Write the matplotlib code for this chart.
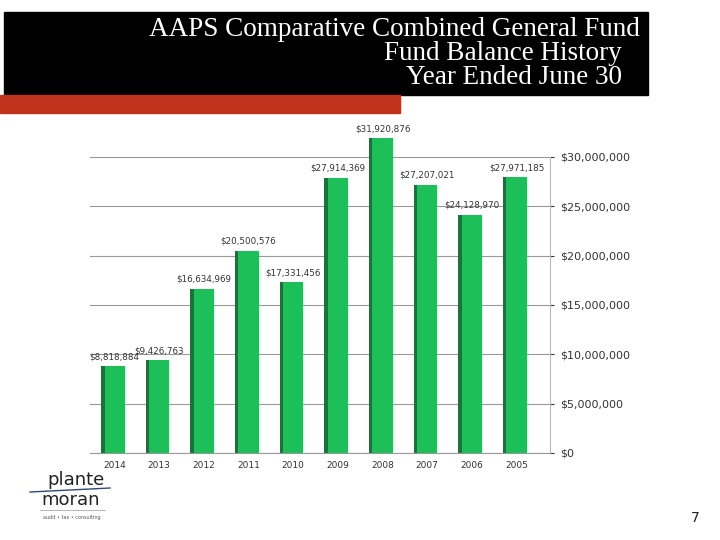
import matplotlib.pyplot as plt
from matplotlib.patches import Rectangle
from matplotlib.ticker import FuncFormatter

# fund balance by fiscal year (year ended June 30)
years = ['2005', '2006', '2007', '2008', '2009', '2010', '2011', '2012', '2013', '2014']
balances = [27971185, 24128970, 27207021, 31920876, 27914369,
            17331456, 20500576, 16634969, 9426763, 8818884]
title_lines = ['AAPS Comparative Combined General Fund',
               'Fund Balance History',
               'Year Ended June 30']

fig = plt.figure(figsize=(7.2, 5.4), dpi=100)

# header band: black box and red strip
fig.patches.append(Rectangle((0.005, 1 - 95 / 540), 0.895, 83 / 540,
                             transform=fig.transFigure, color='black', zorder=0))
fig.patches.append(Rectangle((0.0, 1 - 113 / 540), 400 / 720, 18 / 540,
                             transform=fig.transFigure, color='#c0321c', zorder=0))
fig.text(640 / 720, 1 - 29 / 540, title_lines[0], color='white', ha='right', va='center',
         family='Liberation Serif', fontsize=19.5)
fig.text(622 / 720, 1 - 53 / 540, title_lines[1], color='white', ha='right', va='center',
         family='Liberation Serif', fontsize=19.5)
fig.text(622 / 720, 1 - 77 / 540, title_lines[2], color='white', ha='right', va='center',
         family='Liberation Serif', fontsize=19.5)

# chart
ax = fig.add_axes([90 / 720, 1 - 453 / 540, 460 / 720, 325.6 / 540])
x = list(range(len(years)))
bw = 0.45
ax.bar(x, balances, width=bw, color='#1cbf58', zorder=3)
# darker side face for the 3D look (left side in this mirrored layout)
ax.bar([i + bw / 2 + 0.04 for i in x], balances, width=0.08, color='#0f7a36', zorder=2)

for i, v in zip(x, balances):
    ax.text(i, v + 500000, '${:,}'.format(v), ha='center', va='bottom',
            fontsize=6.3, color='#333333')

ax.set_xlim(9.55, -0.75)
ax.set_ylim(0, 33000000)
ax.set_xticks(x)
ax.set_xticklabels(years, fontsize=6.5, color='#333333')
ax.set_yticks(range(0, 30000001, 5000000))
ax.yaxis.set_major_formatter(FuncFormatter(lambda v, p: '${:,.0f}'.format(v)))
ax.yaxis.tick_right()
ax.tick_params(axis='y', labelsize=8, colors='#333333', length=3, pad=4)
ax.tick_params(axis='x', length=0, pad=6)
ax.grid(axis='y', color='#9a9a9a', linewidth=0.8, zorder=0)
for s in ['top', 'left']:
    ax.spines[s].set_visible(False)
ax.spines['right'].set_color('#bbbbbb')
ax.spines['right'].set_bounds(0, 30000000)
ax.spines['bottom'].set_color('#999999')

# logo block
fig.text(105 / 720, 1 - 480 / 540, 'plante', fontsize=13, ha='right', va='center', color='#222222')
fig.text(100 / 720, 1 - 500 / 540, 'moran', fontsize=13, ha='right', va='center', color='#222222')
fig.add_artist(plt.Line2D([30 / 720, 110 / 720], [1 - 492 / 540, 1 - 488 / 540],
                          color='#2c4a7a', linewidth=1))
fig.add_artist(plt.Line2D([40 / 720, 105 / 720], [1 - 510 / 540, 1 - 510 / 540],
                          color='#999999', linewidth=0.5))
fig.text(72 / 720, 1 - 518 / 540, 'audit • tax • consulting', fontsize=3.5,
         ha='center', va='center', color='#555555')

# page number
fig.text(695 / 720, 1 - 518 / 540, '7', fontsize=10, ha='center', va='center', color='#222222')

fig.savefig('out.png', dpi=100)
